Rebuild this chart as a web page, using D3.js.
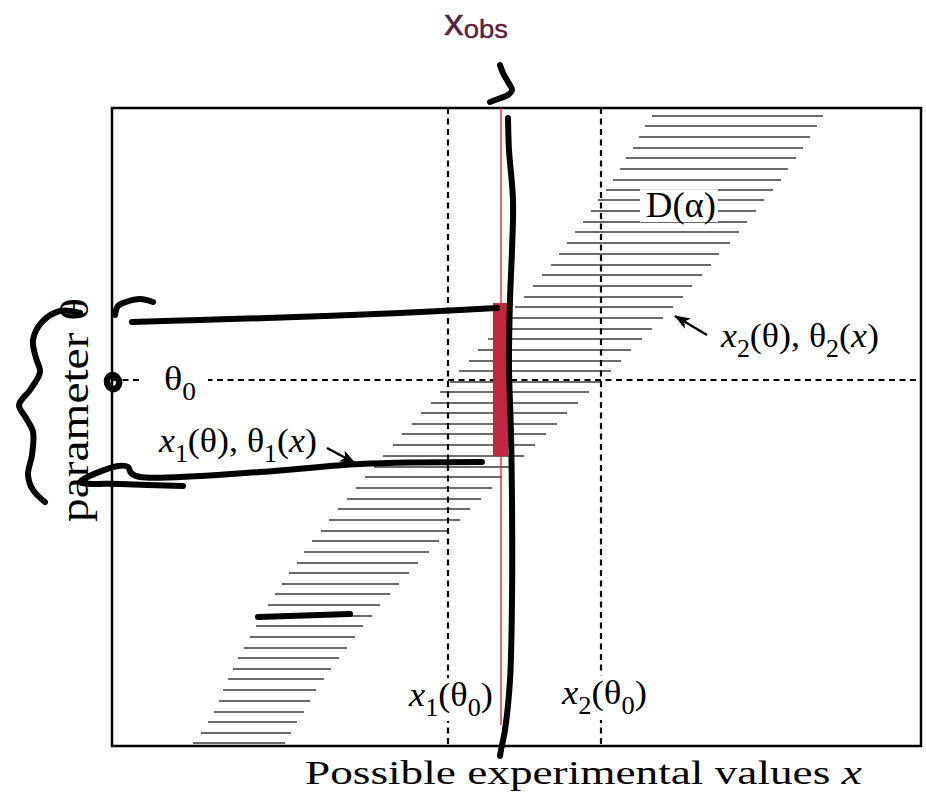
<!DOCTYPE html>
<html>
<head>
<meta charset="utf-8">
<script src="https://cdn.jsdelivr.net/npm/d3@7"></script>
<style>
body { margin: 0; background: #fff; }
svg { display: block; }
</style>
</head>
<body>
<svg id="chart" width="926" height="792"></svg>
<script>
// confidence belt D(alpha): one hatch row per theta, from x1(theta) to x2(theta)
var beltTheta = [630,620,609,598,588,577,566,556,546,535,524,514,503,492,481,471,460,449,439,428,
                 417,407,396,385,375,364,354,343,333,322,312,301,290,279,269,258,247,237,226,215,
                 205,194,183,173,162,152,141,130,120,109,98,88,77,67,56,45,34,24,13,3];
var beltX1 = [540,533,527,521,514,508,501,494,486,479,471,463,455,447,439,430,421,412,403,394,
              385,376,366,357,347,338,328,319,309,300,290,281,271,262,253,244,235,226,217,209,
              200,192,185,177,170,163,156,149,144,138,132,126,121,116,111,107,102,96,89,81];
var beltX2 = [711,705,698,691,684,676,669,661,652,644,635,627,618,607,599,590,580,571,561,551,
              540,530,519,509,499,488,477,466,455,445,434,423,412,401,390,380,369,358,348,337,
              327,317,306,297,287,278,268,260,251,243,235,227,219,212,204,198,192,185,179,173];

var theta0 = 366;
var x1AtTheta0 = 336;
var x2AtTheta0 = 489;
var xObs = 389;
var xObsLineEnd = 21;
var intervalTheta = [290, 443];

// printed arrows [tail, head]
var arrows = [
  [[595, 411], [563, 430]],
  [[215, 298], [243, 283]]
];

// hand-drawn ink on top of the figure
var inkCurl = [[388,681],[391,673],[396,664],[400,656],[396,651],[386,647],[378,644]];
var inkObs = [[396,628],[397,596],[401,546],[400,496],[398,446],[397,379],[399,313],[400,246],
              [400,146],[398,66],[393,16],[389,-4],[388,-10]];
var inkUpper = [[20,424],[88,426],[155,428],[288,433],[348,436],[385,438]];
var inkHook = [[3,431],[6,440],[14,444],[28,447],[41,444]];
var inkLower = [[370,284],[248,282],[148,274],[28,269],[19,273],[16,279],[6,280],[-32,264],[8,262],[71,260]];
var inkShort = [[146,129],[238,132]];
var inkBrace = [[-32,433],[-52,435],[-70,424],[-79,406],[-76,388],[-72,374],[-82,356],[-93,341],
                [-86,328],[-79,314],[-80,291],[-84,271],[-79,256],[-67,244]];
var inkDot = [1, 364];

// label texts: parts {t, i: italic, sub: subscript}
var lblBelt = [{t: "D(α)"}];
var lblX2 = [{t: "x", i: 1}, {t: "2", sub: 1}, {t: "(θ), θ"}, {t: "2", sub: 1}, {t: "("}, {t: "x", i: 1}, {t: ")"}];
var lblX1 = [{t: "x", i: 1}, {t: "1", sub: 1}, {t: "(θ), θ"}, {t: "1", sub: 1}, {t: "("}, {t: "x", i: 1}, {t: ")"}];
var lblX1T0 = [{t: "x", i: 1}, {t: "1", sub: 1}, {t: "(θ"}, {t: "0", sub: 1}, {t: ")"}];
var lblX2T0 = [{t: "x", i: 1}, {t: "2", sub: 1}, {t: "(θ"}, {t: "0", sub: 1}, {t: ")"}];
var lblT0 = [{t: "θ"}, {t: "0", sub: 1}];
var lblXAxis = [{t: "Possible experimental values "}, {t: "x", i: 1}];
var lblYAxis = [{t: "parameter θ"}];
var lblObs = [{t: "x"}, {t: "obs", sub: 1}];

var svg = d3.select("#chart");
var x = d3.scaleLinear().domain([0, 809]).range([112, 921]);
var y = d3.scaleLinear().domain([0, 638]).range([746, 108]);

var rows = beltTheta.map(function(t, i) { return {t: t, a: beltX1[i], b: beltX2[i]}; });
svg.append("g").selectAll("line").data(rows).join("line")
  .attr("x1", function(d) { return x(d.a); })
  .attr("x2", function(d) { return x(d.b); })
  .attr("y1", function(d) { return y(d.t); })
  .attr("y2", function(d) { return y(d.t); })
  .attr("stroke", "#3a3a3a").attr("stroke-width", 1.3);

var dash = svg.append("g").attr("stroke", "#000").attr("stroke-width", 2.2).attr("stroke-dasharray", "6,4.5");
[x1AtTheta0, x2AtTheta0].forEach(function(v) {
  dash.append("line").attr("x1", x(v)).attr("x2", x(v)).attr("y1", y(638)).attr("y2", y(0));
});
dash.append("line").attr("x1", x(0)).attr("x2", x(809)).attr("y1", y(theta0)).attr("y2", y(theta0));

function mathText(parent, parts, o) {
  var g = parent.append("g");
  var inner = g.append("g");
  var t = inner.append("text")
    .attr("font-family", o.font || "'Liberation Serif', serif")
    .attr("font-size", o.size).attr("fill", o.color || "#000");
  if (o.anchor) t.attr("text-anchor", o.anchor);
  if (o.heavy) t.attr("stroke", o.color).attr("stroke-width", o.heavy);
  var shift = 0;
  parts.forEach(function(p) {
    var s = t.append("tspan").text(p.t);
    var want = p.sub ? o.size * (o.subShift || 0.3) : 0;
    if (want !== shift) { s.attr("dy", want - shift); shift = want; }
    if (p.sub) s.attr("font-size", o.size * (o.subSize || 0.72));
    if (p.i) s.attr("font-style", "italic");
  });
  var w = t.node().getBBox().width;
  var sx = o.width ? o.width / w : 1;
  inner.attr("transform", "translate(" + o.x + "," + o.y + ")" +
    (o.rotate ? " rotate(" + o.rotate + ")" : "") + " scale(" + sx + ",1)");
  if (o.bg) {
    var b = g.node().getBBox();
    g.insert("rect", ":first-child")
      .attr("x", b.x - o.bg[0]).attr("y", b.y - o.bg[2])
      .attr("width", b.width + o.bg[0] + o.bg[1]).attr("height", b.height + o.bg[2] + o.bg[3])
      .attr("fill", "#fff");
  }
  return g;
}

var labels = svg.append("g");
mathText(labels, lblBelt, {x: 646, y: 217, size: 36, width: 70, bg: [6, 2, -4, -3]});
mathText(labels, lblX2, {x: 721, y: 347, size: 34, width: 159});
mathText(labels, lblX1, {x: 159, y: 452, size: 34, width: 159});
mathText(labels, lblX1T0, {x: 409, y: 706, size: 34, width: 85, bg: [3, 3, -2, 0]});
mathText(labels, lblX2T0, {x: 562, y: 704, size: 34, width: 86, bg: [3, 3, -2, 0]});
mathText(labels, lblT0, {x: 164, y: 390, size: 34, width: 32, bg: [24, 12, -2, -2]});
mathText(labels, lblXAxis, {x: 305, y: 784, size: 34, width: 557});
mathText(labels, lblYAxis, {x: 88, y: 410, size: 40, width: 224, rotate: -90, anchor: "middle"});
mathText(labels, lblObs, {x: 444, y: 35, size: 37, width: 64, font: "'Liberation Sans', sans-serif",
  color: "#5b2140", subSize: 0.7, subShift: 0.08, heavy: 0.4});

svg.append("defs").append("marker")
  .attr("id", "head").attr("viewBox", "0 0 16 12").attr("refX", 15).attr("refY", 6)
  .attr("markerWidth", 16).attr("markerHeight", 12).attr("markerUnits", "userSpaceOnUse")
  .attr("orient", "auto")
  .append("path").attr("d", "M0,0 L16,6 L0,12 L4,6 Z").attr("fill", "#000");
svg.append("g").selectAll("line").data(arrows).join("line")
  .attr("x1", function(d) { return x(d[0][0]); }).attr("y1", function(d) { return y(d[0][1]); })
  .attr("x2", function(d) { return x(d[1][0]); }).attr("y2", function(d) { return y(d[1][1]); })
  .attr("stroke", "#000").attr("stroke-width", 2.4).attr("marker-end", "url(#head)");

// frame
svg.append("rect").attr("x", x(0)).attr("y", y(638)).attr("width", x(809) - x(0)).attr("height", y(0) - y(638))
  .attr("fill", "none").attr("stroke", "#000").attr("stroke-width", 2.5);

// observed x and the resulting interval
svg.append("line").attr("x1", x(xObs)).attr("x2", x(xObs)).attr("y1", y(638)).attr("y2", y(xObsLineEnd))
  .attr("stroke", "#dc2a3e").attr("stroke-width", 1.4);
svg.append("rect").attr("x", x(xObs) - 8).attr("width", 15)
  .attr("y", y(intervalTheta[1])).attr("height", y(intervalTheta[0]) - y(intervalTheta[1]))
  .attr("fill", "#c1273f");

var pen = d3.line().x(function(d) { return x(d[0]); }).y(function(d) { return y(d[1]); })
  .curve(d3.curveCatmullRom.alpha(0.5));
svg.append("g").attr("fill", "none").attr("stroke", "#000").attr("stroke-width", 6)
  .attr("stroke-linecap", "round").attr("stroke-linejoin", "round")
  .selectAll("path").data([inkCurl, inkObs, inkUpper, inkHook, inkLower, inkShort, inkBrace]).join("path")
  .attr("d", pen);
svg.append("ellipse").attr("cx", x(inkDot[0])).attr("cy", y(inkDot[1])).attr("rx", 6).attr("ry", 7)
  .attr("transform", "rotate(-20," + x(inkDot[0]) + "," + y(inkDot[1]) + ")")
  .attr("fill", "none").attr("stroke", "#000").attr("stroke-width", 6.5);
</script>
</body>
</html>
